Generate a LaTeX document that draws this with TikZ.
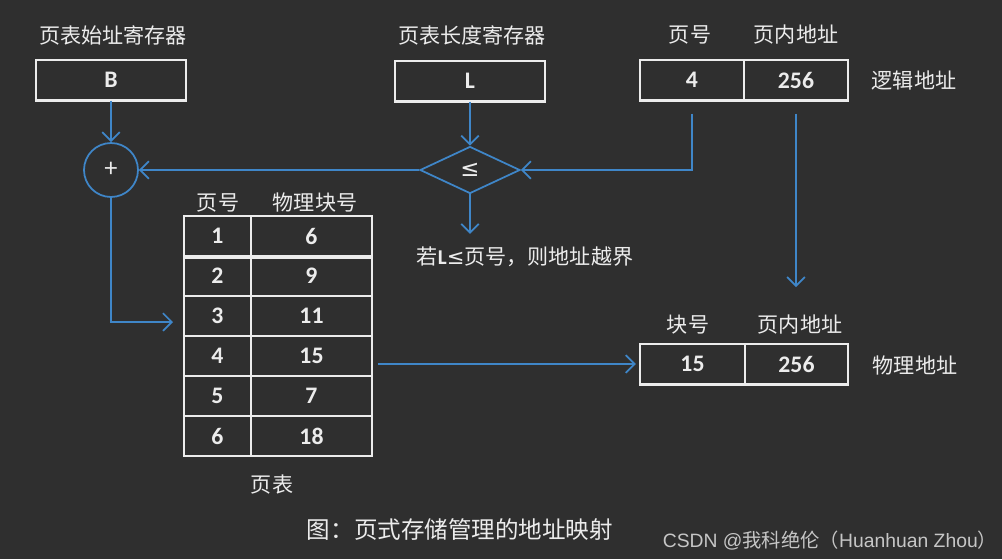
\documentclass[tikz,border=0pt]{standalone}
\usepackage{fontspec}
\setmainfont{Noto Sans CJK SC}
\newfontfamily\numfont{Carlito}
\newfontfamily\markfont{Liberation Sans}
\newfontfamily\symfont{DejaVu Sans}
\usetikzlibrary{shapes.geometric, arrows.meta}
\definecolor{board}{HTML}{2F2F2F}
\definecolor{chalk}{HTML}{ECECEC}
\definecolor{link}{HTML}{3F86C8}
\tikzset{
  cell/.style={draw=chalk, line width=0.8pt, minimum height=0.8cm, inner sep=0pt, text=chalk,
    font=\numfont\bfseries\fontsize{13.5}{14}\selectfont},
  lbl/.style={text=chalk, inner sep=1pt, font=\fontsize{12}{13}\selectfont},
  wire/.style={link, line width=1pt, -{Straight Barb[length=5pt,width=10pt]}},
}

\begin{document}
\begin{tikzpicture}[x=0.02cm, y=-0.02cm]
  \fill[board] (0,0) rectangle (1002,559);

  % registers
  \node[lbl] (btitle) at (113,35) {页表始址寄存器};
  \node[cell, minimum width=3cm] (base) at (111,80) {B};
  \node[lbl] (ltitle) at (472,35) {页表长度寄存器};
  \node[cell, minimum width=3cm] (len) at (470,81) {L};

  % logical address
  \node[lbl] (pntitle) at (690,35) {页号};
  \node[lbl] (offtitle) at (796,35) {页内地址};
  \node[cell, minimum width=2.08cm] (pn) at (692,80) {4};
  \node[cell, minimum width=2.08cm] (off) at (796,80) {256};
  \node[lbl] (logic) at (914,80) {逻辑地址};

  \draw[chalk, line width=2pt] (base.south west) -- (base.south east);
  \draw[chalk, line width=2pt] (len.south west) -- (len.south east);
  \draw[chalk, line width=2pt] (pn.south west) -- (off.south east);

  % adder and comparator
  \node[draw=link, line width=1pt, circle, minimum size=1.08cm, inner sep=0pt, text=chalk,
    font=\fontsize{14}{14}\selectfont] (add) at (111,170) {+};
  \node[draw=link, line width=1pt, diamond, minimum width=2cm, minimum height=0.94cm, inner sep=0pt,
    text=chalk, font=\symfont\fontsize{13}{13}\selectfont] (cmp) at (470,170) {≤};
  \node[lbl] (warn) at (525,257) {若{\numfont\bfseries L}{\symfont ≤}页号，则地址越界};

  % page table
  \node[lbl] (phead) at (218,203) {页号};
  \node[lbl] (fhead) at (315,203) {物理块号};
  \foreach \p/\f [count=\i] in {1/6,2/9,3/11,4/15,5/7,6/18} {
    \node[cell, minimum width=1.34cm] (p\i) at (217.5,196+40*\i) {\p};
    \node[cell, minimum width=2.42cm] (f\i) at (311.5,196+40*\i) {\f};
  }
  \draw[chalk, line width=2.5pt] (p1.south west) -- (f1.south east);
  \node[lbl] (ttitle) at (272,485) {页表};

  % physical address
  \node[lbl] (fntitle) at (688,325) {块号};
  \node[lbl] (off2title) at (800,325) {页内地址};
  \node[cell, minimum width=2.1cm] (fn) at (692.5,364) {15};
  \node[cell, minimum width=2.06cm] (off2) at (796.5,364) {256};
  \draw[chalk, line width=2pt] (fn.south west) -- (off2.south east);
  \node[lbl] (phys) at (915,365) {物理地址};

  % connectors
  \coordinate (tin) at (173,322);
  \coordinate (hit) at (796,287);
  \draw[wire] (base) -- (add);
  \draw[wire] (len) -- (cmp);
  \draw[wire, shorten <=0.26cm] (pn) |- (cmp);
  \draw[wire] (cmp) -- (add);
  \draw[wire, shorten >=0.22cm] (cmp) -- (cmp.south |- warn.north);
  \draw[wire] (add) |- (tin);
  \draw[wire, shorten <=0.26cm] (off) -- (hit);
  \draw[wire, shorten <=3pt, shorten >=2pt] (f4.east |- fn.west) -- (fn.west);

  % caption
  \node[lbl, font=\fontsize{13.4}{14}\selectfont] (cap) at (460,530) {图：页式存储管理的地址映射};
  \node[text=chalk!80!board, inner sep=0pt, font=\markfont\fontsize{11}{12}\selectfont] (mark) at (830,541)
    {CSDN @{\rmfamily 我科绝伦（}Huanhuan Zhou{\rmfamily ）}};
\end{tikzpicture}
\end{document}
